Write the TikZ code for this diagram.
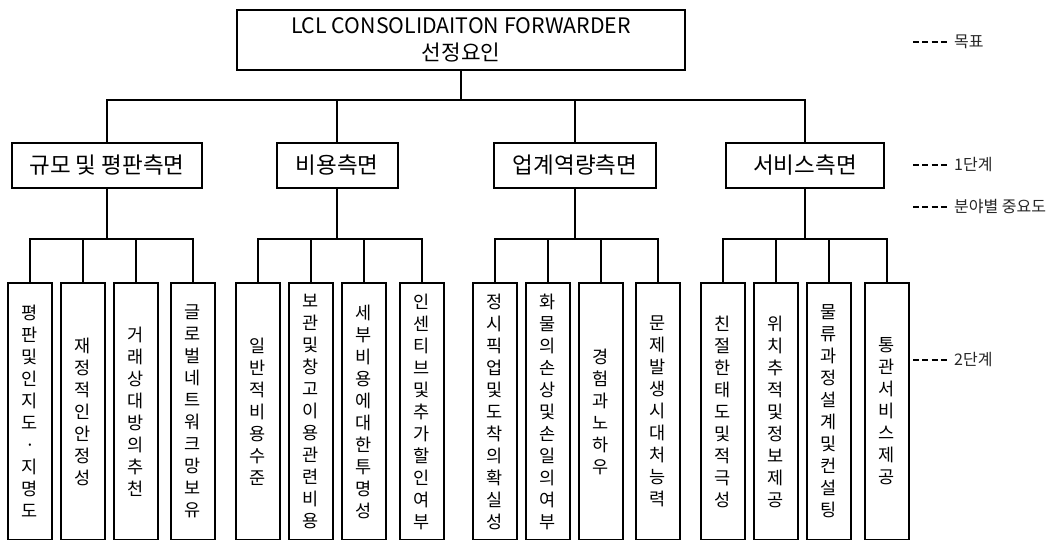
\documentclass[tikz,border=0pt]{standalone}
\usepackage{fontspec}
\setmainfont{Noto Sans CJK KR}
\begin{document}
\begin{tikzpicture}[x=1pt,y=-1pt,
  line/.style={line width=2pt,line cap=rect},
  topbox/.style={draw,line width=2pt,minimum width=448pt,minimum height=60pt,inner sep=0pt,align=center,font=\fontsize{21.3}{27}\selectfont},
  grpbox/.style={draw,line width=2pt,minimum height=45pt,inner sep=0pt,font=\fontsize{22.5}{24}\selectfont},
  itembox/.style={draw,line width=2pt,minimum width=44pt,minimum height=257pt,inner sep=0pt,align=center,anchor=north,font=\fontsize{17.5}{22}\selectfont},
  legtext/.style={anchor=west,inner sep=0pt,font=\fontsize{16}{18}\selectfont,text=black!85},
  legdash/.style={line width=2pt,dash pattern=on 6pt off 3.3pt,shorten >=7pt}]
\useasboundingbox (0,0) rectangle (1061,540);
\clip (0,0) rectangle (1061,540);

% goal
\node[topbox] (top) at (461,40) {LCL CONSOLIDAITON FORWARDER\\선정요인};

% level 1
\node[grpbox,minimum width=190pt] (g1) at (107,165.5) {규모 및 평판측면};
\node[grpbox,minimum width=121pt] (g2) at (337,165.5) {비용측면};
\node[grpbox,minimum width=162pt] (g3) at (575,165.5) {업계역량측면};
\node[grpbox,minimum width=158pt] (g4) at (805,165.5) {서비스측면};

\coordinate (bus) at (461,100);
\draw[line] (top.south) -- (top.south |- bus);
\draw[line] (g1.north) |- (g4.north |- bus) -- (g4.north);
\draw[line] (g2.north) -- (g2.north |- bus);
\draw[line] (g3.north) -- (g3.north |- bus);

% level 2
\node[itembox] (c1) at (30,282) {평\\판\\및\\인\\지\\도\\·\\지\\명\\도};
\node[itembox] (c2) at (83,282) {재\\정\\적\\인\\안\\정\\성};
\node[itembox] (c3) at (136,282) {거\\래\\상\\대\\방\\의\\추\\천};
\node[itembox] (c4) at (193,282) {글\\로\\벌\\네\\트\\워\\크\\망\\보\\유};

\node[itembox] (c5) at (258,282) {일\\반\\적\\비\\용\\수\\준};
\node[itembox] (c6) at (311,282) {보\\관\\및\\창\\고\\이\\용\\관\\련\\비\\용};
\node[itembox] (c7) at (364,282) {세\\부\\비\\용\\에\\대\\한\\투\\명\\성};
\node[itembox] (c8) at (422,282) {인\\센\\티\\브\\및\\추\\가\\할\\인\\여\\부};

\node[itembox] (c9) at (495,282) {정\\시\\픽\\업\\및\\도\\착\\의\\확\\실\\성};
\node[itembox] (c10) at (548,282) {화\\물\\의\\손\\상\\및\\손\\일\\의\\여\\부};
\node[itembox] (c11) at (601,282) {경\\험\\과\\노\\하\\우};
\node[itembox] (c12) at (658,282) {문\\제\\발\\생\\시\\대\\처\\능\\력};

\node[itembox] (c13) at (723,282) {친\\절\\한\\태\\도\\및\\적\\극\\성};
\node[itembox] (c14) at (776,282) {위\\치\\추\\적\\및\\정\\보\\제\\공};
\node[itembox] (c15) at (829,282) {물\\류\\과\\정\\설\\계\\및\\컨\\설\\팅};
\node[itembox] (c16) at (887,282) {통\\관\\서\\비\\스\\제\\공};

\coordinate (sub) at (0,239);
\foreach \g/\a/\b/\c/\d in {g1/c1/c2/c3/c4, g2/c5/c6/c7/c8, g3/c9/c10/c11/c12, g4/c13/c14/c15/c16}{
  \draw[line] (\g.south) -- (\g.south |- sub);
  \draw[line] (\a.north) |- (\d.north |- sub) -- (\d.north);
  \draw[line] (\b.north) -- (\b.north |- sub);
  \draw[line] (\c.north) -- (\c.north |- sub);
}

% legend
\node[legtext] (l1) at (954,42) {목표};
\node[legtext] (l2) at (954,165) {1단계};
\node[legtext] (l3) at (954,207) {분야별 중요도};
\node[legtext] (l4) at (954,360) {2단계};
\coordinate (d1) at (913,42);
\coordinate (d2) at (913,165);
\coordinate (d3) at (913,207);
\coordinate (d4) at (913,360);
\draw[legdash] (d1) -- (l1.west);
\draw[legdash] (d2) -- (l2.west);
\draw[legdash] (d3) -- (l3.west);
\draw[legdash] (d4) -- (l4.west);
\end{tikzpicture}
\end{document}
